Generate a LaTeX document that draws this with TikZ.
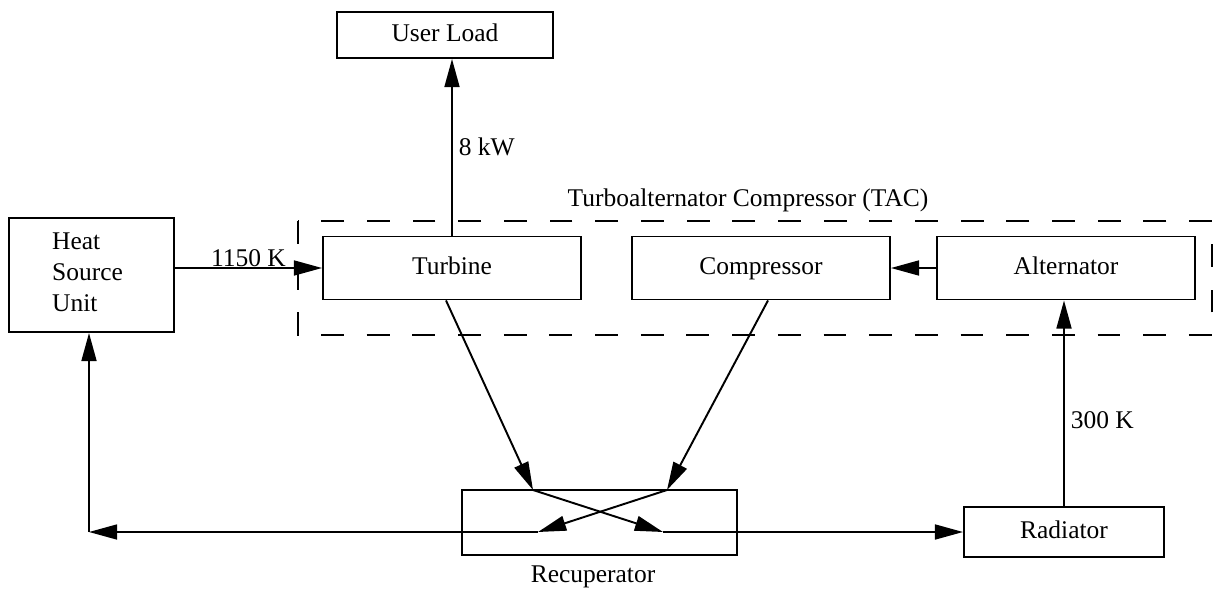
\documentclass[tikz,border=0pt]{standalone}
\usepackage{fontspec}
\setmainfont{Liberation Serif}
\usetikzlibrary{arrows.meta}
\begin{document}
\begin{tikzpicture}[x=0.02cm,y=-0.02cm,
  every node/.style={font=\fontsize{14.5}{17.6}\selectfont},
  blk/.style={draw,line width=1.1pt,inner sep=0pt,text height=10pt,text depth=3pt},
  flow/.style={line width=1.1pt,-{Triangle[length=16pt,width=8.5pt]}},
  tacbox/.style={line width=1.1pt,dash pattern=on 13pt off 13pt}]
\useasboundingbox (0,0) rectangle (1214,592);

\node[draw,line width=1.1pt,minimum width=3.30cm,minimum height=2.28cm] (heat) at (91.5,275) {};
\node[anchor=west,align=left] (heattxt) at (46,272) {Heat\\Source\\Unit};
\node[blk,minimum width=4.32cm,minimum height=0.92cm] (load) at (445,35) {User Load};

\draw[tacbox] (298,221) rectangle (1212,335);
\node (tactxt) at (748,200) {Turboalternator Compressor (TAC)};
\node[blk,minimum width=5.16cm,minimum height=1.26cm] (turbine) at (452,268) {Turbine};
\node[blk,minimum width=5.16cm,minimum height=1.26cm] (comp) at (761,268) {Compressor};
\node[blk,minimum width=5.16cm,minimum height=1.26cm] (alt) at (1066,268) {Alternator};

\node[draw,line width=1.1pt,minimum width=5.5cm,minimum height=1.3cm] (recup) at (599.5,522.5) {};
\node (recuptxt) at (593,577) {Recuperator};
\node[blk,minimum width=4.0cm,minimum height=1.0cm] (rad) at (1064,532) {Radiator};

\coordinate (hin) at (533,490);
\coordinate (hout) at (663,532);
\coordinate (cin) at (667,490);
\coordinate (cout) at (538,532);
\coordinate (corner) at (89,532);

\draw[flow] (heat.east |- turbine.west) -- node[above,inner sep=0pt] {1150 K} (turbine.west);
\draw[flow] (turbine.north) -- node[right] {8 kW} (turbine.north |- load.south);
\draw[flow] (alt.west) -- (comp.east);
\draw[flow] (rad.north) -- node[pos=0.42,right] {300 K} (rad.north |- alt.south);

\draw[flow] ([xshift=-0.12cm]turbine.south) -- (hin);
\draw[flow] (hin) -- (hout);
\draw[flow] (hout) -- (rad.west);
\draw[flow] ([xshift=0.14cm]comp.south) -- (cin);
\draw[flow] (cin) -- (cout);
\draw[flow] (cout) -- (corner);
\draw[flow] (corner) -- (corner |- heat.south);
\end{tikzpicture}
\end{document}
